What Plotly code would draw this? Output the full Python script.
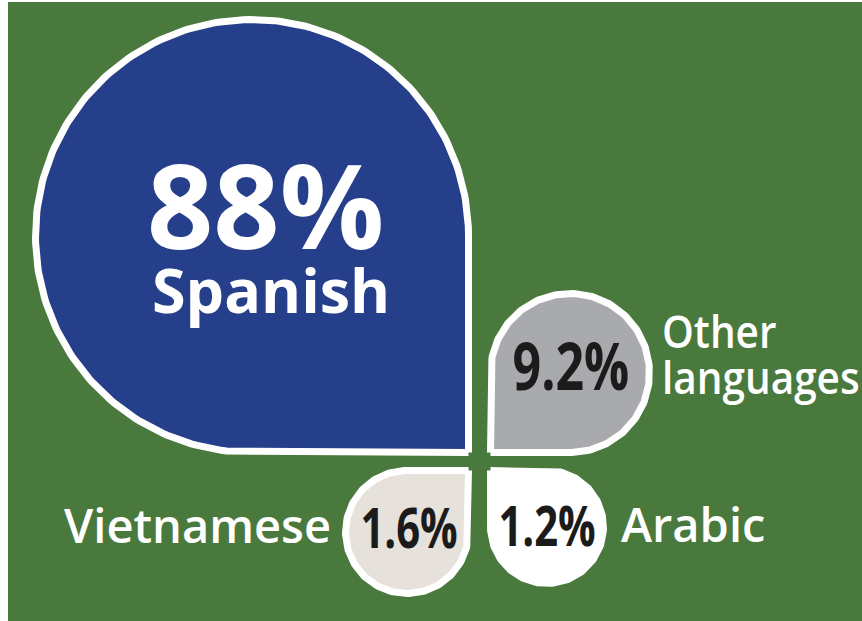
import numpy as np
import plotly.graph_objects as go

# ---- data ----
languages = ["Spanish", "Other languages", "Vietnamese", "Arabic"]
shares = [88, 9.2, 1.6, 1.2]
value_labels = [f"{v:g}%" for v in shares]

# ---- styles / geometry (kept separate from data) ----
fill_colors = ["#263F8B", "#A9AAAE", "#E6E1DB", "#FFFFFF"]
value_colors = ["#FFFFFF", "#1B1B1B", "#1B1B1B", "#1B1B1B"]
outer_radius = [220, 83, 65, 60]          # visual radius of each drop (px)
direction = [(-1, -1), (1, -1), (-1, 1), (1, 1)]  # quadrant relative to cross centre
BG = "#4A793E"
STROKE = 7
CROSS = (479.5, 461.5)
GAP = (7.5, 5.5)

W, H = 862, 621

def drop_path(k, r, sx, sy):
    """Circle of radius r with one square corner at k (facing the cross)."""
    cx, cy = k[0] + sx * r, k[1] + sy * r
    a = np.degrees(np.arctan2(-sy, -sx))
    t = np.radians(np.linspace(a + 45, a + 315, 200))
    xs = np.concatenate([[k[0]], cx + r * np.cos(t), [k[0]]])
    ys = np.concatenate([[k[1]], cy + r * np.sin(t), [k[1]]])
    return xs, ys, (cx, cy)

fig = go.Figure()
centres = []
for lang, col, ro, (sx, sy) in zip(languages, fill_colors, outer_radius, direction):
    r = ro - STROKE / 2
    k = (CROSS[0] + sx * (GAP[0] + STROKE / 2), CROSS[1] + sy * (GAP[1] + STROKE / 2))
    xs, ys, c = drop_path(k, r, sx, sy)
    centres.append(c)
    fig.add_trace(go.Scatter(x=xs, y=ys, mode="lines", fill="toself",
                             fillcolor=col, line=dict(color="white", width=STROKE),
                             hoverinfo="skip", showlegend=False, name=lang))

FONT = "Open Sans"

def ann(x, y, text, size, color, weight, xanchor="center"):
    fig.add_annotation(x=x, y=y, text=text, showarrow=False, xanchor=xanchor,
                       yanchor="middle",
                       font=dict(family=FONT, size=size, color=color, weight=weight))

# Spanish (inside)
cS = centres[0]
ann(cS[0] + 13, cS[1] - 32, value_labels[0], 116, value_colors[0], 700)
ann(cS[0] + 19, cS[1] + 53, languages[0], 61, value_colors[0], 700)

# small drops: values inside
offs = [None, (1, -9), (2, -6), (0, -3)]
sizes = [None, 66, 55, 55]
for i in range(1, 4):
    c = centres[i]
    ann(c[0] + offs[i][0], c[1] + offs[i][1], value_labels[i], sizes[i],
        value_colors[i], 700)

# outside labels
cO = centres[1]
other_lines = languages[1].split(" ")
ann(660, cO[1] - 43, other_lines[0], 45, "white", 600, "left")
ann(660, cO[1] + 3, other_lines[1], 45, "white", 600, "left")
ann(333, centres[2][1] - 7, languages[2], 47, "white", 600, "right")
ann(619, centres[3][1] - 3, languages[3], 47, "white", 600, "left")

fig.update_layout(
    width=W, height=H,
    margin=dict(l=8, r=0, t=2, b=0),
    paper_bgcolor="white", plot_bgcolor=BG,
    xaxis=dict(range=[8, W], visible=False, fixedrange=True),
    yaxis=dict(range=[H, 2], visible=False, fixedrange=True),
    showlegend=False,
)

# remove default page margin and give condensed look to the narrow labels
post = """
document.body.style.margin = '0';
var gd = document.getElementById('{plot_id}');
var squeeze = {'9.2%': [0.76, 'c'], '1.6%': [0.76, 'c'], '1.2%': [0.76, 'c'],
               'Other': [0.9, 'l'], 'languages': [0.9, 'l']};
gd.querySelectorAll('text.annotation-text').forEach(function (t) {
  var s = squeeze[t.textContent];
  if (!s) return;
  var b = t.getBBox();
  var ax = s[1] === 'c' ? b.x + b.width / 2 : b.x;
  t.setAttribute('transform', 'translate(' + (ax * (1 - s[0])) + ',0) scale(' + s[0] + ',1)');
});
"""
fig.write_html("out.html", config={"displayModeBar": False}, post_script=post)
